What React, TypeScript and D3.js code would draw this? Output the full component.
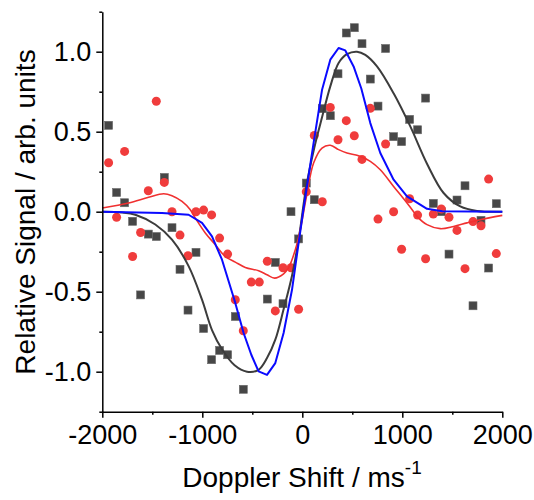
import { useEffect, useRef } from "react";
import * as d3 from "d3";

// ---- data ----
// Doppler shift grid shared by both measured series (m/s)
const dopplerX = [
  -1937, -1857, -1777, -1697, -1617, -1540, -1460, -1380, -1303, -1223,
  -1143, -1063, -987, -907, -827, -747, -670, -590, -510, -430,
  -350, -270, -193, -113, -37, 40, 120, 200, 280, 357,
  440, 520, 597, 680, 757, 833, 913, 993, 1073, 1153,
  1233, 1310, 1390, 1467, 1547, 1627, 1707, 1787, 1863, 1940,
];
// grey squares (null = no point)
const graySignal = [
  0.54, 0.12, 0.056, -0.06, -0.52, -0.14, -0.155, 0.214, -0.1, -0.36,
  -0.615, -0.254, -0.73, -0.925, -0.867, -0.894, -0.655, -1.11, null, null,
  -0.546, -0.317, -0.575, 0.0, -0.17, 0.179, 0.075, 0.644, 0.6, 0.862,
  1.117, 1.15, 1.05, 0.829, 0.66, 1.02, 0.469, 0.438, 0.577, 0.512,
  0.71, 0.052, 0.0, -0.265, 0.073, 0.162, -0.588, -0.054, -0.352, 0.05,
];
// red circles
const redSignal = [
  0.306, -0.035, 0.377, -0.28, -0.13, 0.131, 0.69, 0.183, 0.0, -0.146,
  -0.275, 0.0, 0.01, -0.02, -0.165, -0.265, -0.55, -0.744, -0.44, -0.44,
  -0.31, -0.62, -0.35, -0.35, -0.61, 0.125, 0.477, 0.062, 0.652, 0.45,
  0.569, 0.475, 0.327, 0.646, -0.046, 0.423, 0.0, -0.235, 0.081, -0.021,
  -0.294, -0.015, 0.017, -0.035, -0.117, -0.356, -0.062, -0.088, 0.204, -0.262,
];

// fitted curves
const grayFitX = [-2000, -1800, -1670, -1470, -1303, -1137, -1003, -903, -803, -677, -553, -437, -353, -270, -187, -103, -37, 40, 120, 200, 280, 363, 447, 547, 630, 747, 913, 1080, 1247, 1413, 1580, 1747, 2000];
const grayFitY = [0, -0.005, -0.019, -0.08, -0.175, -0.34, -0.55, -0.74, -0.86, -0.96, -1.0, -0.988, -0.915, -0.8, -0.61, -0.4, -0.175, 0.158, 0.4, 0.596, 0.783, 0.93, 0.985, 1.0, 0.98, 0.908, 0.74, 0.533, 0.3, 0.117, 0.033, 0.005, 0];

const blueFitX = [-2000, -1403, -1137, -1003, -903, -803, -675, -587, -510, -437, -353, -270, -187, -103, -37, 13, 113, 197, 280, 363, 430, 513, 590, 680, 780, 913, 1047, 1247, 1400, 2000];
const blueFitY = [0, -0.008, -0.019, -0.07, -0.154, -0.3, -0.56, -0.758, -0.894, -0.998, -1.02, -0.946, -0.758, -0.488, -0.196, 0.02, 0.43, 0.76, 0.95, 1.023, 1.008, 0.908, 0.77, 0.554, 0.367, 0.2, 0.096, 0.018, 0.003, 0];

const redFitX = [-2000, -1737, -1537, -1387, -1303, -1203, -1120, -1070, -970, -870, -770, -670, -570, -437, -353, -277, -187, -137, -70, -20, 40, 113, 197, 280, 363, 447, 563, 680, 780, 913, 1047, 1113, 1147, 1247, 1380, 1513, 1647, 1780, 2000];
const redFitY = [0.023, 0.054, 0.09, 0.112, 0.1, 0.064, 0.012, -0.04, -0.133, -0.206, -0.28, -0.315, -0.348, -0.369, -0.394, -0.415, -0.388, -0.35, -0.238, -0.112, 0.09, 0.304, 0.398, 0.415, 0.388, 0.367, 0.35, 0.315, 0.262, 0.158, 0.054, 0.0, -0.029, -0.081, -0.106, -0.092, -0.07, -0.05, -0.023];

const xMajor = [-2000, -1000, 0, 1000, 2000];
const xMinor = [-1500, -500, 500, 1500];
const yMajor = [-1.0, -0.5, 0.0, 0.5, 1.0];
const yMinor = [-1.25, -0.75, -0.25, 0.25, 0.75, 1.25];

const FONT = "'Liberation Sans', Arial, sans-serif";

export default function App() {
  const svgRef = useRef<SVGSVGElement | null>(null);

  useEffect(() => {
    const svg = d3.select(svgRef.current);
    svg.selectAll("*").remove();

    const x = d3.scaleLinear().domain([-2000, 2000]).range([102.3, 502.3]);
    const y = d3.scaleLinear().domain([-1.25, 1.25]).range([411.7, 11.7]);

    const g = svg.append("g");

    // points first, lines over them
    const gray = dopplerX.map((d, i) => ({ x: d, y: graySignal[i] })).filter(p => p.y != null);
    const red = dopplerX.map((d, i) => ({ x: d, y: redSignal[i] }));
    const sq = 8;
    g.append("g").selectAll("rect").data(gray).join("rect")
      .attr("x", d => x(d.x) - sq / 2).attr("y", d => y(d.y as number) - sq / 2)
      .attr("width", sq).attr("height", sq)
      .attr("fill", "#474747").attr("stroke", "#6a6a6a").attr("stroke-width", 0.6);
    g.append("g").selectAll("circle").data(red).join("circle")
      .attr("cx", d => x(d.x)).attr("cy", d => y(d.y)).attr("r", 4.5)
      .attr("fill", "#f03c3c");

    const smooth = d3.line<[number, number]>().x(d => x(d[0])).y(d => y(d[1])).curve(d3.curveCatmullRom);
    const straight = d3.line<[number, number]>().x(d => x(d[0])).y(d => y(d[1]));
    const zip = (xs: number[], ys: number[]) => xs.map((v, i) => [v, ys[i]] as [number, number]);

    g.append("path").attr("d", smooth(zip(grayFitX, grayFitY)))
      .attr("fill", "none").attr("stroke", "#3c3c3c").attr("stroke-width", 2);
    g.append("path").attr("d", smooth(zip(redFitX, redFitY)))
      .attr("fill", "none").attr("stroke", "#f03030").attr("stroke-width", 1.6);
    g.append("path").attr("d", straight(zip(blueFitX, blueFitY)))
      .attr("fill", "none").attr("stroke", "#0a0aff").attr("stroke-width", 2).attr("stroke-linejoin", "round");

    // axes
    const styleAxis = (sel: any) => {
      sel.select(".domain").attr("stroke", "#000").attr("stroke-width", 1.5);
      sel.selectAll(".tick line").attr("stroke", "#000").attr("stroke-width", 1.5);
      sel.selectAll("text").attr("font-family", FONT).attr("font-size", 27).attr("fill", "#000");
    };
    const xAxisG = svg.append("g").attr("transform", "translate(0,411.7)");
    xAxisG.call(d3.axisBottom(x).tickValues(xMinor).tickSize(3).tickSizeOuter(0).tickFormat(() => ""));
    xAxisG.append("g").call(d3.axisBottom(x).tickValues(xMajor).tickSize(6).tickSizeOuter(0).tickPadding(7).tickFormat(d => String(d)))
      .select(".domain").remove();
    styleAxis(xAxisG);

    const yAxisG = svg.append("g").attr("transform", "translate(102.3,0)");
    yAxisG.call(d3.axisLeft(y).tickValues(yMinor).tickSize(3).tickSizeOuter(0).tickFormat(() => ""));
    yAxisG.append("g").call(d3.axisLeft(y).tickValues(yMajor).tickSize(6).tickSizeOuter(0).tickPadding(5).tickFormat(d => (+d).toFixed(1)))
      .select(".domain").remove();
    styleAxis(yAxisG);

    // titles
    svg.append("text")
      .attr("transform", "translate(35,212) rotate(-90)")
      .attr("text-anchor", "middle").attr("font-family", FONT).attr("font-size", 28)
      .text("Relative Signal / arb. units");
    const xt = svg.append("text")
      .attr("x", 302).attr("y", 487)
      .attr("text-anchor", "middle").attr("font-family", FONT).attr("font-size", 28);
    xt.append("tspan").text("Doppler Shift / ms");
    xt.append("tspan").attr("font-size", 19).attr("dy", -13).text("-1");
  }, []);

  return (
    <svg ref={svgRef} width={534} height={500}
      style={{ position: "absolute", left: 0, top: 0, background: "#fff" }} />
  );
}
